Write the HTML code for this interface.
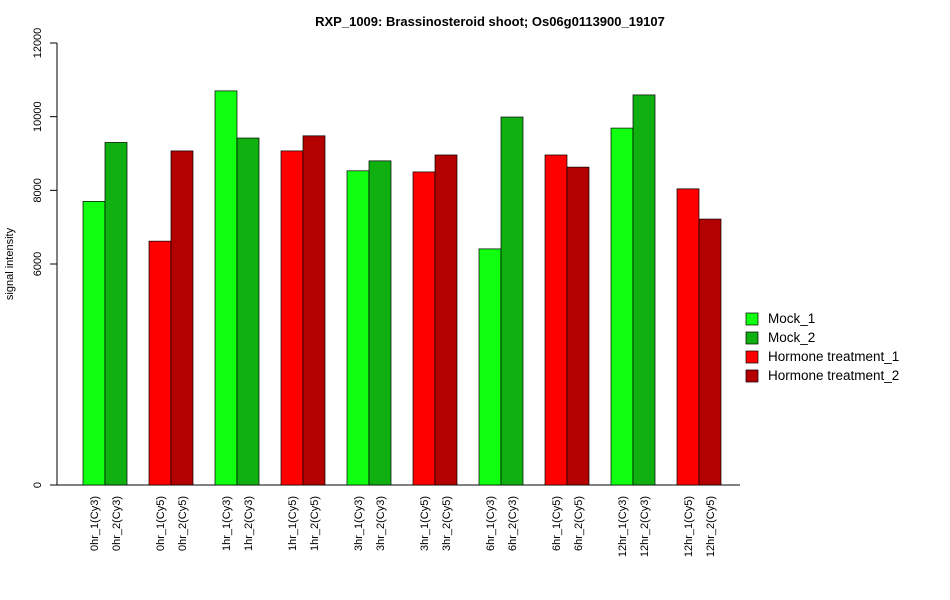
<!DOCTYPE html>
<html><head><meta charset="utf-8"><style>
body{margin:0;background:#fff;}
svg{display:block;font-family:"Liberation Sans",Arial,sans-serif;}
</style></head><body>
<svg id="chart" width="950" height="600">
<text x="490" y="26" text-anchor="middle" font-size="13" font-weight="bold">RXP_1009: Brassinosteroid shoot; Os06g0113900_19107</text>
<text transform="translate(13,264) rotate(-90)" text-anchor="middle" font-size="11">signal intensity</text>
<g id="axes"></g><g id="bars"></g><g id="xlabels"></g>
<g>
<rect x="746" y="313" width="12" height="12" fill="#11ff11" stroke="#000" stroke-width="0.7"/>
<text x="768" y="323" font-size="13.5">Mock_1</text>
<rect x="746" y="332" width="12" height="12" fill="#10b010" stroke="#000" stroke-width="0.7"/>
<text x="768" y="342" font-size="13.5">Mock_2</text>
<rect x="746" y="351" width="12" height="12" fill="#ff0000" stroke="#000" stroke-width="0.7"/>
<text x="768" y="361" font-size="13.5">Hormone treatment_1</text>
<rect x="746" y="370" width="12" height="12" fill="#b30000" stroke="#000" stroke-width="0.7"/>
<text x="768" y="380" font-size="13.5">Hormone treatment_2</text>
</g>
</svg>
<script>
const categories=["0hr_1(Cy3)","0hr_2(Cy3)","0hr_1(Cy5)","0hr_2(Cy5)","1hr_1(Cy3)","1hr_2(Cy3)","1hr_1(Cy5)","1hr_2(Cy5)","3hr_1(Cy3)","3hr_2(Cy3)","3hr_1(Cy5)","3hr_2(Cy5)","6hr_1(Cy3)","6hr_2(Cy3)","6hr_1(Cy5)","6hr_2(Cy5)","12hr_1(Cy3)","12hr_2(Cy3)","12hr_1(Cy5)","12hr_2(Cy5)"];
const values=[7700,9300,6620,9070,10700,9420,9070,9480,8530,8800,8500,8960,6410,9990,8960,8630,9690,10590,8040,7220];
const groups=["mock1","mock2","hormone1","hormone2","mock1","mock2","hormone1","hormone2","mock1","mock2","hormone1","hormone2","mock1","mock2","hormone1","hormone2","mock1","mock2","hormone1","hormone2"];
const yTicks=[0,6000,8000,10000,12000];
const colors={mock1:"#11ff11",mock2:"#10b010",hormone1:"#ff0000",hormone2:"#b30000"};
const NS="http://www.w3.org/2000/svg";
const y=v=>485-v*442/12000;
const x=i=>83+Math.floor(i/2)*66+(i%2)*22;
function mk(tag,attrs,parent){const e=document.createElementNS(NS,tag);for(const k in attrs)e.setAttribute(k,attrs[k]);parent.appendChild(e);return e;}
const axes=document.getElementById('axes');
let l=mk('line',{x1:57,x2:57,y1:y(12000),y2:y(0),stroke:"#000"},axes);


l=mk('line',{x1:50,x2:740,y1:485,y2:485,stroke:"#000"},axes);


yTicks.forEach(t=>{
 const tk=mk('line',{x1:50,x2:57,y1:y(t),y2:y(t),stroke:"#000"},axes);
 
 
 const tx=mk('text',{transform:`translate(41,${y(t)}) rotate(-90)`,"text-anchor":"middle","font-size":"11"},axes);
 tx.textContent=t;
 
 
});
const bars=document.getElementById('bars'),xl=document.getElementById('xlabels');
values.forEach((v,i)=>{
 const r=mk('rect',{x:x(i),y:y(v),width:22,height:485-y(v),fill:colors[groups[i]],stroke:"#000","stroke-width":"0.7"},bars);
 
 
 const t=mk('text',{transform:`translate(${x(i)+15},496) rotate(-90)`,"text-anchor":"end","font-size":"11"},xl);
 t.textContent=categories[i];
 
 
});
</script>
</body></html>
